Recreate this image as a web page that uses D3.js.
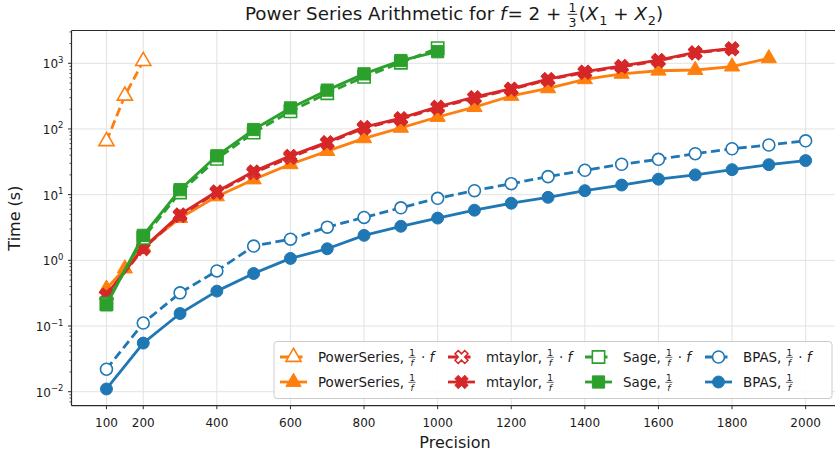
<!DOCTYPE html>
<html>
<head>
<meta charset="utf-8">
<script src="https://cdn.jsdelivr.net/npm/d3@7"></script>
<style>
  body { margin: 0; background: #fff; }
  text { font-family: "DejaVu Sans", sans-serif; fill: #1a1a1a; white-space: pre; }
</style>
</head>
<body>
<svg id="chart"></svg>
<script>
var svgWidth = 835;
var svgHeight = 454;

// data
var precision = [100, 200, 300, 400, 500, 600, 700, 800, 900, 1000,
                 1100, 1200, 1300, 1400, 1500, 1600, 1700, 1800, 1900, 2000];
var psDashX = [100, 150, 200];
var psDashY = [65, 320, 1080];
var psSolidX = [100, 150, 200, 300, 400, 500, 600, 700, 800, 900, 1000,
                1100, 1200, 1300, 1400, 1500, 1600, 1700, 1800, 1900];
var psSolidY = [0.37, 0.75, 1.6, 4.4, 9.4, 17, 29, 46, 72, 104, 152,
                215, 318, 415, 570, 690, 770, 790, 890, 1190];
var mtX = precision.slice(0, 18);
var mtDashY = [0.29, 1.5, 4.8, 10.8, 21.5, 37, 61, 103, 141, 210,
               295, 400, 560, 725, 885, 1090, 1430, 1650];
var mtSolidY = [0.30, 1.54, 5.0, 11.2, 22.6, 39, 63, 107, 146, 218,
                305, 410, 575, 745, 910, 1120, 1470, 1690];
var sageX = precision.slice(0, 10);
var sageDashY = [0.22, 2.2, 10.8, 35, 88, 185, 350, 620, 1020, 1700];
var sageSolidY = [0.21, 2.4, 11.9, 39, 98, 209, 390, 690, 1100, 1500];
var bpasX = precision;
var bpasDashY = [0.022, 0.111, 0.32, 0.69, 1.65, 2.1, 3.2, 4.5, 6.3, 8.8,
                 11.5, 14.7, 18.8, 23.5, 29, 34.5, 42, 50, 57, 66];
var bpasSolidY = [0.011, 0.055, 0.155, 0.34, 0.63, 1.07, 1.5, 2.4, 3.3, 4.4,
                  5.8, 7.4, 9.1, 11.5, 14, 17.2, 20, 24, 28.6, 33];
var xTicks = [100, 200, 400, 600, 800, 1000, 1200, 1400, 1600, 1800, 2000];
var yTickExps = [-2, -1, 0, 1, 2, 3];

var series = [
  {name: "PowerSeries", dot: true,  color: "#ff7f0e", shape: "tri", xs: psDashX,  ys: psDashY},
  {name: "PowerSeries", dot: false, color: "#ff7f0e", shape: "tri", xs: psSolidX, ys: psSolidY},
  {name: "mtaylor",     dot: true,  color: "#d62728", shape: "x",   xs: mtX,      ys: mtDashY},
  {name: "mtaylor",     dot: false, color: "#d62728", shape: "x",   xs: mtX,      ys: mtSolidY},
  {name: "Sage",        dot: true,  color: "#2ca02c", shape: "sq",  xs: sageX,    ys: sageDashY},
  {name: "Sage",        dot: false, color: "#2ca02c", shape: "sq",  xs: sageX,    ys: sageSolidY},
  {name: "BPAS",        dot: true,  color: "#1f77b4", shape: "o",   xs: bpasX,    ys: bpasDashY},
  {name: "BPAS",        dot: false, color: "#1f77b4", shape: "o",   xs: bpasX,    ys: bpasSolidY}
];

var margin = {top: 30.5, left: 71.5, bottom: 48.3};
var plotRight = 840.6;
var plotBottom = svgHeight - margin.bottom;

var svg = d3.select("#chart")
  .attr("width", svgWidth)
  .attr("height", svgHeight);

var x = d3.scaleLinear().domain([5, 2095]).range([margin.left, plotRight]);
var y = d3.scaleLog().domain([Math.pow(10, -2.213), Math.pow(10, 3.499)]).range([plotBottom, margin.top]);

// lays out a little bit of "math text": plain, italic, subscript and stacked fractions
function mathText(g, parts, fs) {
  var cx = 0;
  parts.forEach(function(p) {
    if (typeof p === "string" || p.it) {
      var t = g.append("text").attr("x", cx).attr("y", 0)
        .style("font-size", fs + "px")
        .style("font-style", p.it ? "italic" : null)
        .text(p.it || p);
      cx += t.node().getComputedTextLength() + (p.it ? fs * 0.05 : 0);
    } else if (p.sub) {
      var s = g.append("text").attr("x", cx).attr("y", fs * 0.25)
        .style("font-size", (fs * 0.7) + "px").text(p.sub);
      cx += s.node().getComputedTextLength();
    } else if (p.frac) {
      var sz = fs * 0.68;
      var n = g.append("text").attr("y", -fs * 0.42).style("font-size", sz + "px").text(p.frac[0]);
      var d = g.append("text").attr("y", fs * 0.36).style("font-size", sz + "px")
        .style("font-style", p.denIt ? "italic" : null).text(p.frac[1]);
      var wn = n.node().getComputedTextLength();
      var wd = d.node().getComputedTextLength();
      var w = Math.max(wn, wd) + fs * 0.15;
      n.attr("x", cx + (w - wn) / 2);
      d.attr("x", cx + (w - wd) / 2);
      g.append("line").attr("x1", cx + fs * 0.03).attr("x2", cx + w - fs * 0.03)
        .attr("y1", -fs * 0.31).attr("y2", -fs * 0.31)
        .attr("stroke", "#1a1a1a").attr("stroke-width", fs * 0.05);
      cx += w + fs * 0.05;
    }
  });
  return cx;
}

// grid
var grid = svg.append("g");
grid.selectAll(".gx").data(xTicks).enter().append("line")
  .attr("x1", d => x(d)).attr("x2", d => x(d))
  .attr("y1", margin.top).attr("y2", plotBottom)
  .attr("stroke", "#e2e2e2").attr("stroke-width", 1);
grid.selectAll(".gy").data(yTickExps).enter().append("line")
  .attr("x1", margin.left).attr("x2", plotRight)
  .attr("y1", d => y(Math.pow(10, d))).attr("y2", d => y(Math.pow(10, d)))
  .attr("stroke", "#e2e2e2").attr("stroke-width", 1);

// markers
function symbolFor(shape) {
  if (shape === "tri") return d3.symbol().type(d3.symbolTriangle).size(100)();
  if (shape === "x") return d3.symbol().type(d3.symbolCross).size(105)();
  if (shape === "sq") return d3.symbol().type(d3.symbolSquare).size(150)();
  return d3.symbol().type(d3.symbolCircle).size(112)();
}
function drawMarker(g, s, px, py) {
  g.append("path")
    .attr("d", symbolFor(s.shape))
    .attr("transform", "translate(" + px + "," + py + ")" + (s.shape === "x" ? " rotate(45)" : ""))
    .attr("fill", s.dot ? "#fff" : s.color)
    .attr("stroke", s.color)
    .attr("stroke-width", s.dot ? 1.6 : 1);
}

var lineGen = d3.line().x(d => x(d[0])).y(d => y(d[1]));
var plot = svg.append("g");
series.forEach(function(s) {
  var pts = s.xs.map((v, i) => [v, s.ys[i]]);
  var g = plot.append("g");
  g.append("path").datum(pts)
    .attr("d", lineGen)
    .attr("fill", "none")
    .attr("stroke", s.color)
    .attr("stroke-width", 2.8)
    .attr("stroke-dasharray", s.dot ? "9,4.5" : null)
    .attr("stroke-linejoin", "round");
  pts.forEach(p => drawMarker(g, s, x(p[0]), y(p[1])));
});

// spines
var spine = svg.append("g").attr("stroke", "#2b2b2b").attr("stroke-width", 1.2);
spine.append("line").attr("x1", margin.left).attr("x2", margin.left).attr("y1", margin.top).attr("y2", plotBottom);
spine.append("line").attr("x1", margin.left).attr("x2", plotRight).attr("y1", plotBottom).attr("y2", plotBottom);
spine.append("line").attr("x1", margin.left).attr("x2", plotRight).attr("y1", margin.top).attr("y2", margin.top);

// x axis
var xAxis = svg.append("g");
xTicks.forEach(function(t) {
  xAxis.append("line").attr("x1", x(t)).attr("x2", x(t)).attr("y1", plotBottom).attr("y2", plotBottom + 3.5)
    .attr("stroke", "#2b2b2b").attr("stroke-width", 1);
  xAxis.append("text").attr("x", x(t)).attr("y", plotBottom + 21)
    .attr("text-anchor", "middle").style("font-size", "12px").text(t);
});
svg.append("text").attr("x", (margin.left + plotRight) / 2 - 1).attr("y", 448)
  .attr("text-anchor", "middle").style("font-size", "16px").text("Precision");

// y axis (log, with minor ticks)
var yAxis = svg.append("g");
for (var e = -3; e <= 3; e++) {
  for (var k = 2; k <= 9; k++) {
    var v = k * Math.pow(10, e);
    var pv = y(v);
    if (pv < margin.top || pv > plotBottom) continue;
    yAxis.append("line").attr("x1", margin.left - 2).attr("x2", margin.left).attr("y1", pv).attr("y2", pv)
      .attr("stroke", "#2b2b2b").attr("stroke-width", 0.8);
  }
}
yTickExps.forEach(function(ex) {
  var py = y(Math.pow(10, ex));
  yAxis.append("line").attr("x1", margin.left - 3.5).attr("x2", margin.left).attr("y1", py).attr("y2", py)
    .attr("stroke", "#2b2b2b").attr("stroke-width", 1);
  var t = yAxis.append("text").attr("x", margin.left - 8).attr("y", py + 5)
    .attr("text-anchor", "end").style("font-size", "12px");
  t.append("tspan").text("10");
  t.append("tspan").attr("dy", -5.5).style("font-size", "8.5px")
    .text(ex < 0 ? "\u2212" + (-ex) : String(ex));
});
svg.append("text")
  .attr("transform", "translate(20," + ((margin.top + plotBottom) / 2) + ") rotate(-90)")
  .attr("text-anchor", "middle").style("font-size", "16px").text("Time (s)");

// title
var titleG = svg.append("g");
var tw = mathText(titleG, ["Power Series Arithmetic for ", {it: "f"}, "= 2 + ",
  {frac: ["1", "3"]}, "(", {it: "X"}, {sub: "1"}, " + ", {it: "X"}, {sub: "2"}, ")"], 18.3);
titleG.attr("transform", "translate(" + ((margin.left + plotRight) / 2 - 2 - tw / 2) + ",20)");

// legend
var legend = svg.append("g");
legend.append("rect")
  .attr("x", 274).attr("y", 341.5).attr("width", 558).attr("height", 57)
  .attr("rx", 3).attr("fill", "#fff").attr("fill-opacity", 0.85)
  .attr("stroke", "#cccccc").attr("stroke-width", 1);
var colHandle = [280, 448, 585, 705];
var colText = [318, 486, 623, 743];
var rowY = [357, 382];
series.forEach(function(s, i) {
  var col = Math.floor(i / 2), row = i % 2;
  var g = legend.append("g");
  var hx = colHandle[col], hy = rowY[row];
  g.append("line").attr("x1", hx).attr("x2", hx + 27).attr("y1", hy).attr("y2", hy)
    .attr("stroke", s.color).attr("stroke-width", 2.8)
    .attr("stroke-dasharray", s.dot ? "9,4.5" : null);
  drawMarker(g, s, hx + 13.5, hy);
  var tg = legend.append("g").attr("transform", "translate(" + colText[col] + "," + (hy + 4.5) + ")");
  var parts = [s.name + ", ", {frac: ["1", "f"], denIt: true}];
  if (s.dot) parts = parts.concat([" \u00b7 ", {it: "f"}]);
  mathText(tg, parts, 13.4);
});
</script>
</body>
</html>
